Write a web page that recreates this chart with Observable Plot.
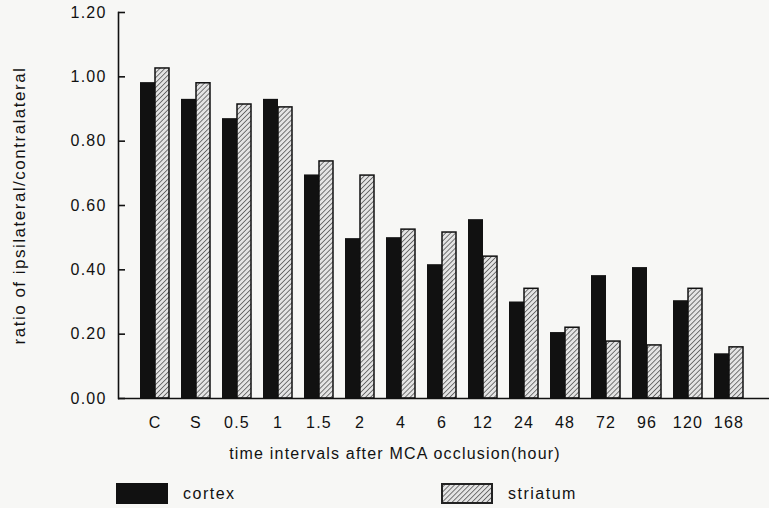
<!DOCTYPE html>
<html>
<head>
<meta charset="utf-8">
<script src="https://cdn.jsdelivr.net/npm/d3@7"></script>
<script src="https://cdn.jsdelivr.net/npm/@observablehq/plot@0.6"></script>
<style>
  html, body { margin: 0; padding: 0; background: #f7f7f5; }
  body { width: 769px; height: 508px; overflow: hidden; font-family: "Liberation Sans", Arial, sans-serif; color: #111; }
  #legend { position: relative; width: 769px; height: 38px; font-size: 16px; letter-spacing: 1.5px; }
  .sw { position: absolute; top: 13px; width: 52px; height: 21px; box-sizing: border-box; }
  .lab { position: absolute; top: 14px; line-height: 20px; }
</style>
</head>
<body>
<div id="chart"></div>
<div id="legend">
  <div class="sw" style="left:116px;background:#111;"></div>
  <div class="lab" style="left:183px;">cortex</div>
  <svg class="sw" style="left:441px;" width="52" height="21">
    <defs>
      <pattern id="hatchL" patternUnits="userSpaceOnUse" width="3.5" height="3.5" patternTransform="rotate(45)">
        <rect width="3.5" height="3.5" fill="#e4e4e4"/>
        <line x1="0" y1="0" x2="0" y2="3.5" stroke="#444" stroke-width="1.4"/>
      </pattern>
    </defs>
    <rect x="1" y="1" width="50" height="19" fill="url(#hatchL)" stroke="#222" stroke-width="2"/>
  </svg>
  <div class="lab" style="left:508px;">striatum</div>
</div>
<script>
const categories = ["C","S","0.5","1","1.5","2","4","6","12","24","48","72","96","120","168"];
const cortex   = [0.982,0.930,0.870,0.930,0.695,0.497,0.500,0.416,0.556,0.300,0.205,0.382,0.407,0.304,0.139];
const striatum = [1.026,0.980,0.914,0.905,0.737,0.693,0.525,0.516,0.441,0.341,0.220,0.177,0.165,0.341,0.159];
const yTicks = [0, 0.2, 0.4, 0.6, 0.8, 1.0, 1.2];
const xTitle = "time intervals after MCA occlusion(hour)";
const yTitle = "ratio of ipsilateral/contralateral";

const cortexData = categories.map((c, i) => ({cat: c, value: cortex[i]}));
const striatumData = categories.map((c, i) => ({cat: c, value: striatum[i]}));

const svg = Plot.plot({
  width: 769,
  height: 470,
  marginLeft: 118,
  marginRight: 0,
  marginTop: 12,
  marginBottom: 72,
  style: {background: "#f7f7f5", fontFamily: "'Liberation Sans', Arial, sans-serif", fontSize: "16px", color: "#111", letterSpacing: "1.2px"},
  x: {domain: categories, range: [118, 764.5], paddingInner: 0.3, paddingOuter: 0.484, label: null},
  y: {domain: [0, 1.2], label: null},
  marks: [
    Plot.barY(cortexData, {x: "cat", y: "value", fill: "#111", insetRight: 14}),
    Plot.barY(striatumData, {x: "cat", y: "value", fill: "url(#hatch)", stroke: "#111", strokeWidth: 1.5, insetLeft: 15}),
    Plot.ruleY([0], {stroke: "#111", strokeWidth: 1.6}),
    Plot.frame({anchor: "left", stroke: "#111", strokeWidth: 1.6}),
    Plot.axisY({ticks: yTicks, tickFormat: d => d.toFixed(2), tickSize: -7, tickPadding: 19, strokeWidth: 1.6, label: null}),
    Plot.axisY({ticks: [], label: yTitle, labelAnchor: "center", labelOffset: 106, labelArrow: "none"}),
    Plot.axisX({tickSize: 0, tickPadding: 18, label: null}),
    Plot.axisX({ticks: [], label: xTitle, labelAnchor: "center", labelOffset: 60, labelArrow: "none"})
  ]
});

d3.select(svg).insert("defs", ":first-child").html(
  '<pattern id="hatch" patternUnits="userSpaceOnUse" width="3.5" height="3.5" patternTransform="rotate(45)">' +
  '<rect width="3.5" height="3.5" fill="#e4e4e4"/>' +
  '<line x1="0" y1="0" x2="0" y2="3.5" stroke="#444" stroke-width="1.4"/></pattern>'
);
d3.select(svg).selectAll('[aria-label="y-axis label"]').style("font-size", "17px").style("letter-spacing", "1.5px");
d3.select(svg).selectAll('[aria-label="x-axis label"]').attr("transform", function() {
  const t = this.getAttribute("transform") || "";
  return "translate(-49,0) " + t;
});

document.getElementById("chart").appendChild(svg);
</script>
</body>
</html>
